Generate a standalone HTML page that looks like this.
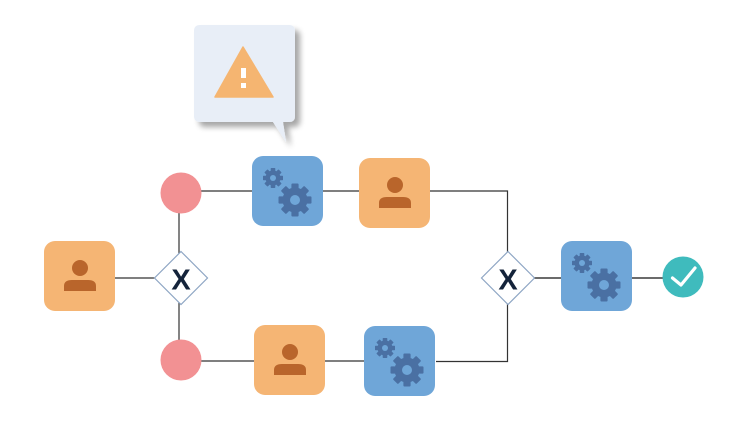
<!DOCTYPE html>
<html><head><meta charset="utf-8"><style>
html,body{margin:0;padding:0;background:#fff;}
svg{display:block;}
</style></head><body>
<svg width="745" height="438" viewBox="0 0 745 438" xmlns="http://www.w3.org/2000/svg">
<defs>
  <filter id="sh" x="-20%" y="-20%" width="150%" height="150%">
    <feGaussianBlur in="SourceAlpha" stdDeviation="3"/>
    <feOffset dx="5" dy="5"/>
    <feComponentTransfer><feFuncA type="linear" slope="0.35"/></feComponentTransfer>
    <feMerge><feMergeNode/><feMergeNode in="SourceGraphic"/></feMerge>
  </filter>
  <g id="gearBig">
    <circle r="12.5" fill="#4a70a3"/>
    <g fill="#4a70a3">
      <rect x="-3.6" y="-16.5" width="7.2" height="33" rx="1"/>
      <rect x="-3.6" y="-16.5" width="7.2" height="33" rx="1" transform="rotate(45)"/>
      <rect x="-3.6" y="-16.5" width="7.2" height="33" rx="1" transform="rotate(90)"/>
      <rect x="-3.6" y="-16.5" width="7.2" height="33" rx="1" transform="rotate(135)"/>
    </g>
    <circle r="5" fill="#6fa6d8"/>
  </g>
  <g id="gearSmall">
    <circle r="7.5" fill="#4a70a3"/>
    <g fill="#4a70a3">
      <rect x="-2.3" y="-10" width="4.6" height="20" rx="0.7"/>
      <rect x="-2.3" y="-10" width="4.6" height="20" rx="0.7" transform="rotate(45)"/>
      <rect x="-2.3" y="-10" width="4.6" height="20" rx="0.7" transform="rotate(90)"/>
      <rect x="-2.3" y="-10" width="4.6" height="20" rx="0.7" transform="rotate(135)"/>
    </g>
    <circle r="3" fill="#6fa6d8"/>
  </g>
  <g id="gearTask">
    <rect x="0" y="0" width="71" height="70" rx="11" fill="#6fa6d8"/>
    <use href="#gearSmall" x="21" y="22"/>
    <use href="#gearBig" x="43" y="44"/>
  </g>
  <g id="userTask">
    <rect x="0" y="0" width="71" height="70" rx="11" fill="#f5b574"/>
    <circle cx="36" cy="27" r="8" fill="#b9652b"/>
    <path d="M20 50 L20 45 Q20 39 28 39 L44 39 Q52 39 52 45 L52 50 Z" fill="#b9652b"/>
  </g>
</defs>

<!-- connectors -->
<g stroke="#333" stroke-width="1.2" fill="none">
  <line x1="181" y1="191" x2="253" y2="191"/>
  <line x1="322" y1="191" x2="359" y2="191"/>
  <polyline points="429,191 507.5,191 507.5,361.5 436,361.5"/>
  <line x1="181" y1="361" x2="255" y2="361"/>
  <line x1="324" y1="361" x2="365" y2="361"/>
  <line x1="179" y1="193" x2="179" y2="360"/>
  <line x1="115" y1="278" x2="155" y2="278"/>
</g>
<g stroke="#6b6b6b" stroke-width="2" fill="none">
  <line x1="534" y1="278" x2="562" y2="278"/>
  <line x1="632" y1="278" x2="664" y2="278"/>
</g>

<!-- speech bubble -->
<g filter="url(#sh)">
  <path d="M200 25 L289 25 Q295 25 295 31 L295 116 Q295 122 289 122 L283 122 L286 142 L273 122 L200 122 Q194 122 194 116 L194 31 Q194 25 200 25 Z" fill="#e8eef7"/>
</g>
<path d="M243 47 L273 97 L215 97 Z" fill="#f5b571" stroke="#f5b571" stroke-width="1.5" stroke-linejoin="round"/>
<rect x="241" y="68" width="5" height="10" fill="#fff"/>
<rect x="241" y="83" width="5" height="5" fill="#fff"/>

<!-- events -->
<circle cx="181" cy="193" r="20.5" fill="#f29193"/>
<circle cx="181" cy="360" r="20.5" fill="#f29193"/>
<circle cx="683" cy="277" r="20.5" fill="#3fbbbd"/>
<polyline points="672.5,278 681,285 695,268" fill="none" stroke="#fff" stroke-width="3.2" stroke-linecap="round" stroke-linejoin="round"/>

<!-- gateways -->
<path d="M181 251.5 L207.5 278 L181 304.5 L154.5 278 Z" fill="#fff" stroke="#8ea6c4" stroke-width="1.2"/>
<text x="181" y="289.5" text-anchor="middle" font-family="Liberation Sans, sans-serif" font-weight="bold" font-size="29" fill="#14233a">X</text>
<path d="M508 251.5 L534.5 278 L508 304.5 L481.5 278 Z" fill="#fff" stroke="#8ea6c4" stroke-width="1.2"/>
<text x="508" y="289.5" text-anchor="middle" font-family="Liberation Sans, sans-serif" font-weight="bold" font-size="29" fill="#14233a">X</text>

<!-- tasks -->
<use href="#userTask" x="44" y="241"/>
<use href="#gearTask" x="252" y="156"/>
<use href="#userTask" x="359" y="158"/>
<use href="#userTask" x="254" y="325"/>
<use href="#gearTask" x="364" y="326"/>
<use href="#gearTask" x="561" y="241"/>
</svg>
</body></html>
